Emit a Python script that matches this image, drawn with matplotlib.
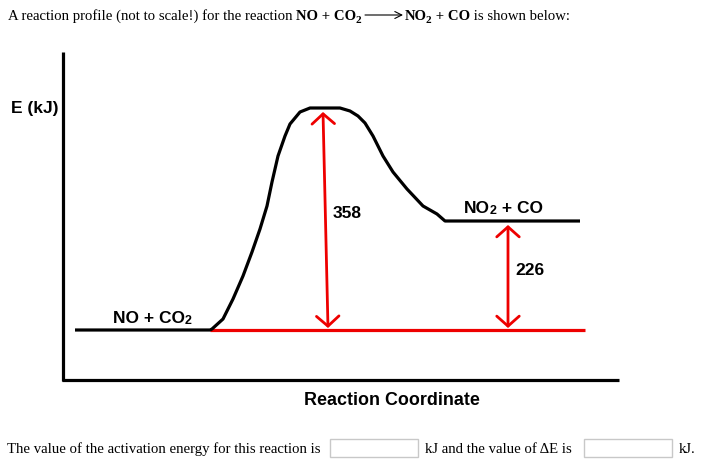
import matplotlib.pyplot as plt
from matplotlib.patches import Rectangle

# energy values written on the diagram (kJ)
activation_energy = 358
delta_e = 226

# hand-drawn reaction profile (pixel units)
path_x = [75, 210, 212, 223, 233, 243, 252, 260, 267, 272, 278, 285, 290, 300, 310,
          325, 340, 350, 358, 365, 373, 383, 393, 407, 423, 437, 445, 580]
path_y = [331, 331, 330, 320, 300, 277, 253, 230, 207, 183, 157, 137, 125, 113, 109,
          109, 109, 112, 117, 124, 137, 157, 173, 190, 207, 215, 222, 222]

# red reference level (reactant energy) and the two double arrows
base_x = [210, 585]
base_y = [331, 331]
ea_arrow = [(323, 113), (328, 329)]
de_arrow = [(508, 226), (508, 329)]

RED = '#ee0000'
SANS = 'Liberation Sans'
SERIF = 'Liberation Serif'


def put_runs(ax, x, y, runs, **common):
    # write pieces of text one after another on the same baseline
    r = ax.figure.canvas.get_renderer()
    for s, kw in runs:
        kw = {**common, **kw}
        dy = kw.pop('dy', 0)
        x += kw.pop('dx', 0)
        t = ax.text(x, y + dy, s, ha='left', va='baseline', **kw)
        x += t.get_window_extent(r).width
    return x


def main():
    fig = plt.figure(figsize=(7.09, 4.77), dpi=100)
    ax = fig.add_axes([0, 0, 1, 1])
    ax.set_xlim(0, 709)
    ax.set_ylim(477, 0)
    ax.axis('off')

    # axes of the diagram
    ax.plot([63, 63], [53, 382], color='black', lw=2.3, solid_capstyle='butt')
    ax.plot([62, 619], [381, 381], color='black', lw=2.3, solid_capstyle='butt')

    # profile
    ax.plot(base_x, base_y, color=RED, lw=2.3, solid_capstyle='butt')
    ax.plot(path_x, path_y, color='black', lw=2.3, solid_joinstyle='round',
            solid_capstyle='butt')

    for (x0, y0), (x1, y1) in [ea_arrow, de_arrow]:
        ax.annotate('', xy=(x0, y0), xytext=(x1, y1),
                    arrowprops=dict(arrowstyle='<->,head_length=0.4,head_width=0.45',
                                    color=RED, lw=2.0, mutation_scale=18,
                                    shrinkA=0, shrinkB=0))

    lab = dict(family=SANS, weight='bold', fontsize=12.5)
    ax.text(11, 108, 'E (kJ)', va='center', ha='left', **lab)
    ax.text(392, 401, 'Reaction Coordinate', va='center', ha='center',
            family=SANS, weight='bold', fontsize=12.9)
    ax.text(333, 214, str(activation_energy), va='center', ha='left', **lab)
    ax.text(515, 271, str(delta_e), va='center', ha='left', **lab)

    sub = dict(fontsize=9, dy=1)
    put_runs(ax, 113, 323, [('NO + CO', {}), ('2', sub)], **lab)
    put_runs(ax, 464, 213, [('NO', {}), ('2', sub), (' + CO', {})], **lab)

    # title line
    tsub = dict(fontsize=8, dy=3, dx=-1, weight='bold')
    common = dict(family=SERIF, fontsize=10.6)
    x = put_runs(ax, 8, 20, [('A reaction profile (not to scale!) for the reaction ', {}),
                             ('NO + CO', {'weight': 'bold'}),
                             ('2', tsub)], **common)
    x += 4
    ax.annotate('', xy=(x + 38, 16), xytext=(x, 16),
                arrowprops=dict(arrowstyle='->,head_length=0.5,head_width=0.25',
                                color='black', lw=0.8, shrinkA=0, shrinkB=0))
    put_runs(ax, x + 40, 20, [('NO', {'weight': 'bold'}),
                              ('2', tsub),
                              (' + CO', {'weight': 'bold'}),
                              (' is shown below:', {})], **common)

    # answer line with two empty input boxes
    ax.text(7, 453, 'The value of the activation energy for this reaction is',
            ha='left', va='baseline', **common)
    ax.add_patch(Rectangle((330, 440), 88, 18, facecolor='white',
                           edgecolor='#c8c8c8', lw=1))
    ax.text(425, 453, 'kJ and the value of \u0394E is', ha='left', va='baseline', **common)
    ax.add_patch(Rectangle((584, 440), 88, 18, facecolor='white',
                           edgecolor='#c8c8c8', lw=1))
    ax.text(679, 453, 'kJ.', ha='left', va='baseline', **common)

    fig.savefig('out.png', dpi=100)


if __name__ == '__main__':
    main()
